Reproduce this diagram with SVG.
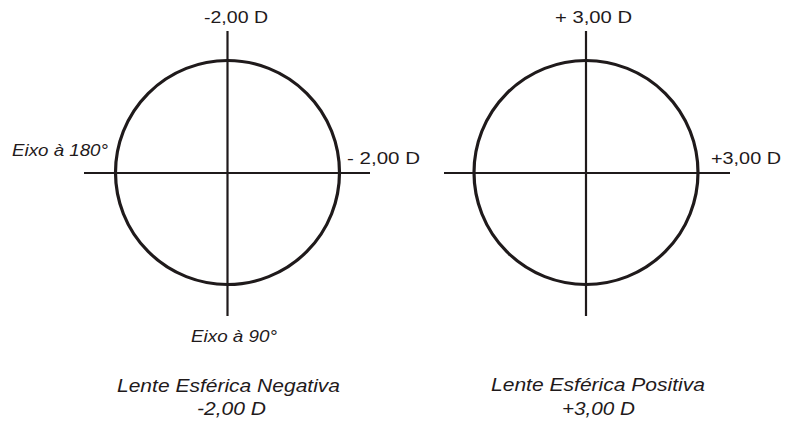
<svg xmlns="http://www.w3.org/2000/svg" width="787" height="427" viewBox="0 0 787 427">
<style>
.axis{stroke:#1f1a1b;stroke-width:2.2;fill:none}
.lens{stroke:#1f1a1b;stroke-width:3.2;fill:none}
text{font-family:"Liberation Sans",Arial,sans-serif;fill:#1f1a1b;font-size:17px}
.it{font-style:italic}
.cap{font-style:italic;font-size:18px}
</style>
<rect width="787" height="427" fill="#ffffff"/>
<g id="lens-negative">
<circle class="lens" cx="227.5" cy="172.5" r="112"/>
<text x="204" y="23" textLength="64" lengthAdjust="spacingAndGlyphs">-2,00 D</text>
<text class="it" x="12" y="156" textLength="96" lengthAdjust="spacingAndGlyphs">Eixo à 180°</text>
<text x="347" y="164" textLength="73" lengthAdjust="spacingAndGlyphs">- 2,00 D</text>
<text class="it" x="191" y="342" textLength="86" lengthAdjust="spacingAndGlyphs">Eixo à 90°</text>
<text class="cap" x="117" y="392" textLength="223" lengthAdjust="spacingAndGlyphs">Lente Esférica Negativa</text>
<text class="cap" x="197" y="415" textLength="69" lengthAdjust="spacingAndGlyphs">-2,00 D</text>
</g>
<g id="lens-positive">
<circle class="lens" cx="586" cy="172.5" r="112"/>
<text x="555" y="23" textLength="77" lengthAdjust="spacingAndGlyphs">+ 3,00 D</text>
<text x="711" y="164" textLength="70" lengthAdjust="spacingAndGlyphs">+3,00 D</text>
<text class="cap" x="491" y="391" textLength="214" lengthAdjust="spacingAndGlyphs">Lente Esférica Positiva</text>
<text class="cap" x="562" y="415" textLength="73" lengthAdjust="spacingAndGlyphs">+3,00 D</text>
</g>
<g id="connectors">
<line class="axis" x1="227.5" y1="31" x2="227.5" y2="316"/>
<line class="axis" x1="84" y1="173" x2="370" y2="173"/>
<line class="axis" x1="586" y1="31" x2="586" y2="316"/>
<line class="axis" x1="444" y1="173" x2="730" y2="173"/>
</g>
</svg>
